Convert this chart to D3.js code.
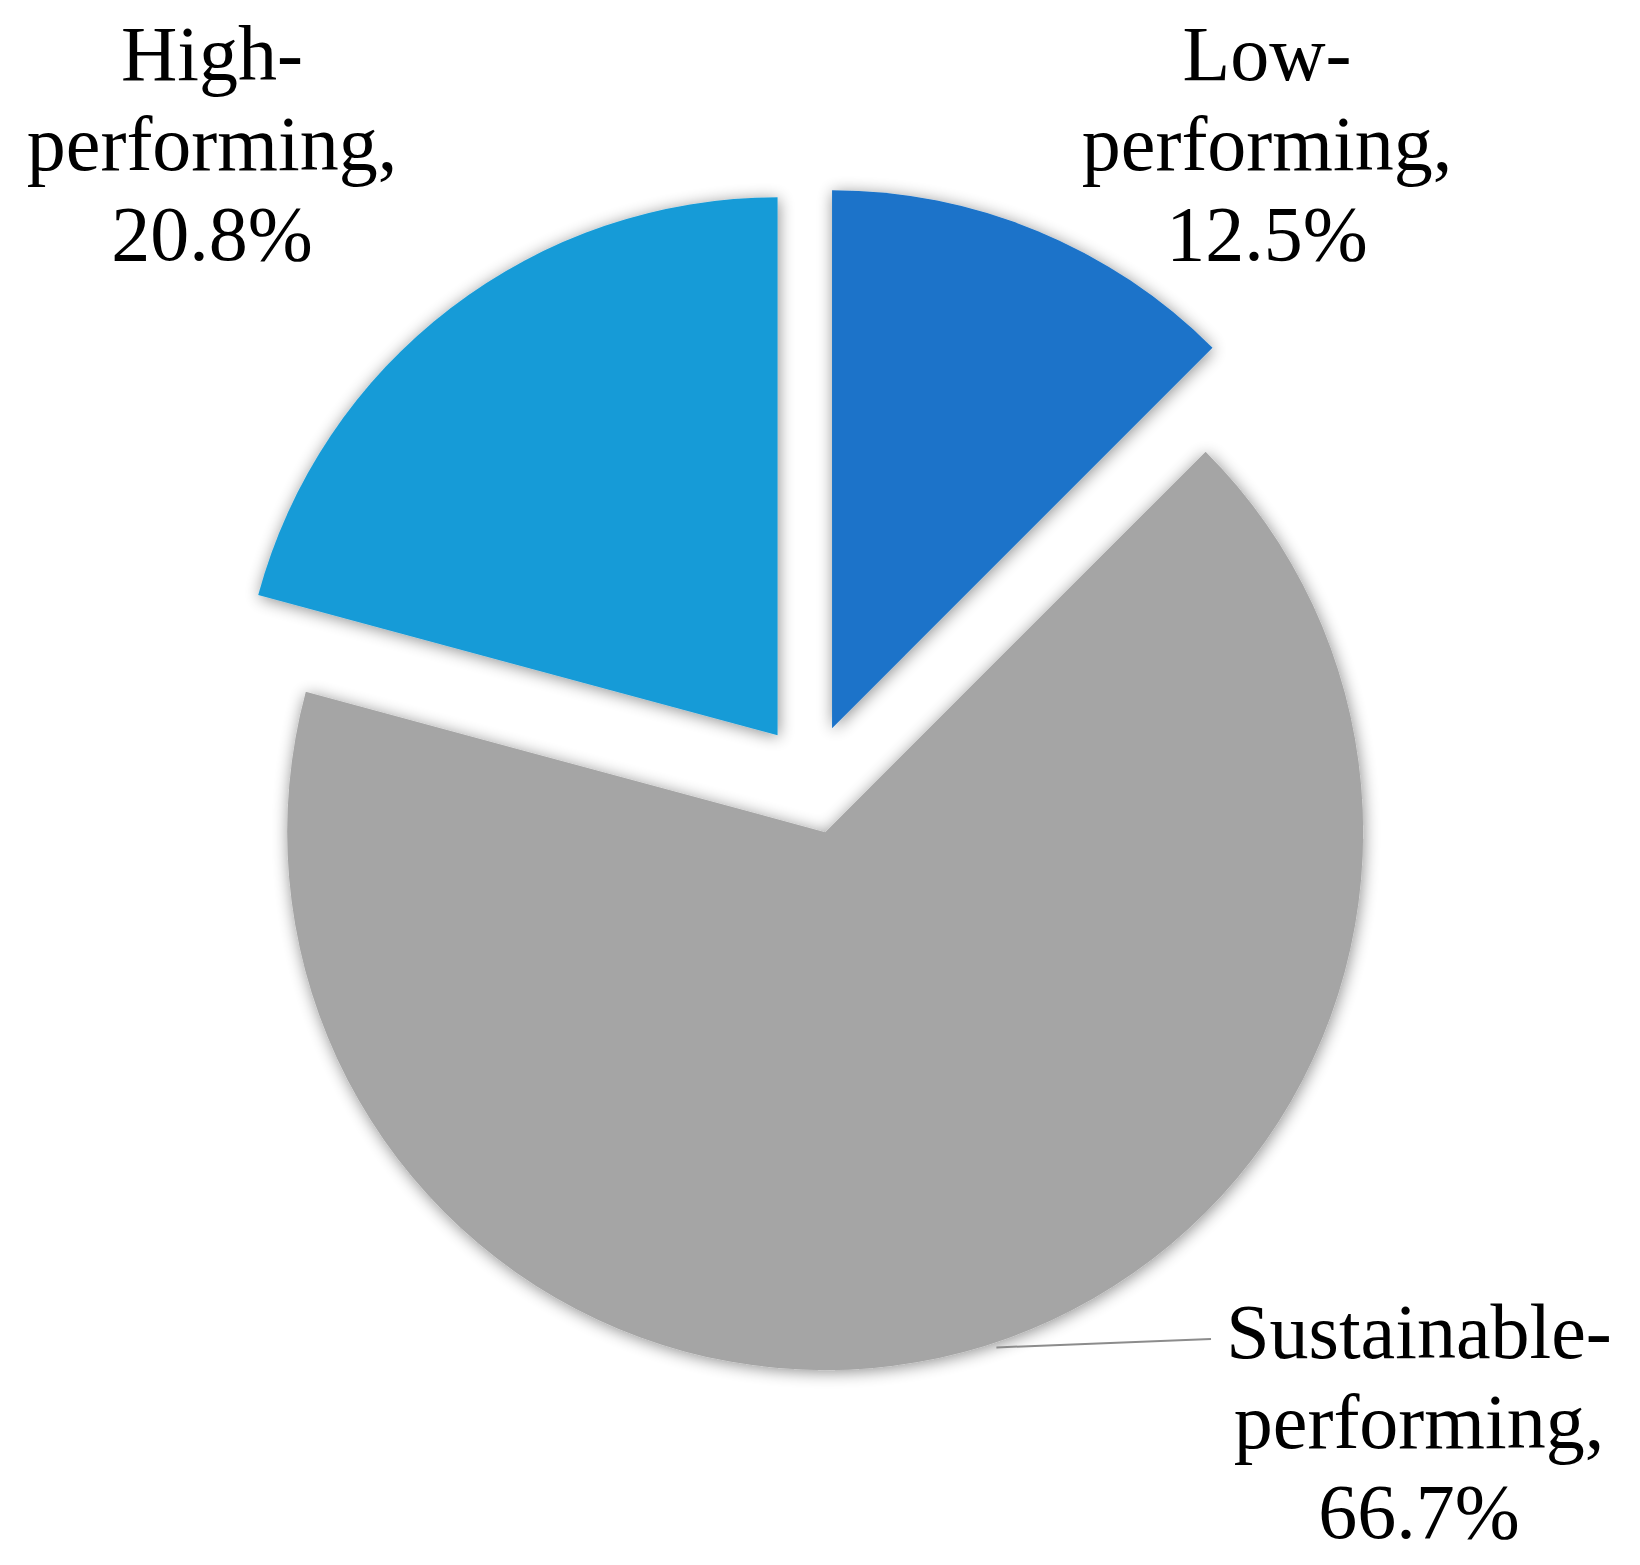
<!DOCTYPE html>
<html>
<head>
<meta charset="utf-8">
<script src="https://cdn.jsdelivr.net/npm/d3@7"></script>
<style>
  html, body { margin: 0; padding: 0; background: #fff; }
  text { font-family: "Liberation Serif", "Times New Roman", serif; }
</style>
</head>
<body>
<div id="chart"></div>
<script>
// data, in pie order (clockwise from 12 o'clock)
var categories = ["Low-performing", "Sustainable-performing", "High-performing"];
var values = [12.5, 66.7, 20.8];
var colors = ["#1a73c9", "#a5a5a5", "#199bd7"];

var W = 1640, H = 1565,
    CX = 811, CY = 779,
    RADIUS = 538,
    EXPLODE = 55,
    FONT = 78,
    LINE_H = 90;

// label anchor (centre of the first line's baseline) for each slice
var labelPos = {
  "Low-performing": [1267, 80],
  "Sustainable-performing": [1419, 1358],
  "High-performing": [212, 80]
};

var svg = d3.select("#chart").append("svg")
    .attr("width", W).attr("height", H);

var defs = svg.append("defs");
var f = defs.append("filter").attr("id", "shadow")
    .attr("x", "-20%").attr("y", "-20%").attr("width", "140%").attr("height", "140%");
f.append("feGaussianBlur").attr("in", "SourceAlpha").attr("stdDeviation", 8).attr("result", "b");
f.append("feOffset").attr("in", "b").attr("dx", 1).attr("dy", 2).attr("result", "o");
f.append("feComponentTransfer").attr("in", "o").attr("result", "s")
  .append("feFuncA").attr("type", "linear").attr("slope", 0.45);
var m = f.append("feMerge");
m.append("feMergeNode").attr("in", "s");
m.append("feMergeNode").attr("in", "SourceGraphic");

var data = categories.map(function(c, i) { return {name: c, value: values[i], color: colors[i]}; });

var pie = d3.pie().sort(null).value(function(d) { return d.value; });
var arc = d3.arc().innerRadius(0).outerRadius(RADIUS);
var arcs = pie(data);

function offset(d) {
  var a = (d.startAngle + d.endAngle) / 2;
  return [EXPLODE * Math.sin(a), -EXPLODE * Math.cos(a)];
}

var g = svg.append("g").attr("transform", "translate(" + CX + "," + CY + ")");

g.selectAll("path.slice").data(arcs).enter().append("path")
    .attr("class", "slice")
    .attr("d", arc)
    .attr("fill", function(d) { return d.data.color; })
    .attr("filter", "url(#shadow)")
    .attr("transform", function(d) { var o = offset(d); return "translate(" + o[0] + "," + o[1] + ")"; });

// leader line for the big slice
var big = arcs[1];
var o = offset(big);
var mid = (big.startAngle + big.endAngle) / 2 - 0.06;
var sx = CX + o[0] + (RADIUS + 5) * Math.sin(mid),
    sy = CY + o[1] - (RADIUS + 5) * Math.cos(mid);
var lp = labelPos[big.data.name];
svg.append("path")
    .attr("d", d3.line()([[sx, sy], [lp[0] - 208, lp[1] - 19]]))
    .attr("stroke", "#8c8c8c").attr("stroke-width", 2).attr("fill", "none");

// labels
arcs.forEach(function(d) {
  var p = labelPos[d.data.name];
  var parts = d.data.name.split("-");
  var lines = [parts[0] + "-", parts[1] + ",", d.data.value.toFixed(1) + "%"];
  var t = svg.append("text")
      .attr("x", p[0]).attr("y", p[1])
      .attr("text-anchor", "middle")
      .attr("font-size", FONT)
      .attr("fill", "#000");
  t.selectAll("tspan").data(lines).enter().append("tspan")
      .attr("x", p[0])
      .attr("y", function(l, i) { return p[1] + i * LINE_H; })
      .text(function(l) { return l; });
});
</script>
</body>
</html>
